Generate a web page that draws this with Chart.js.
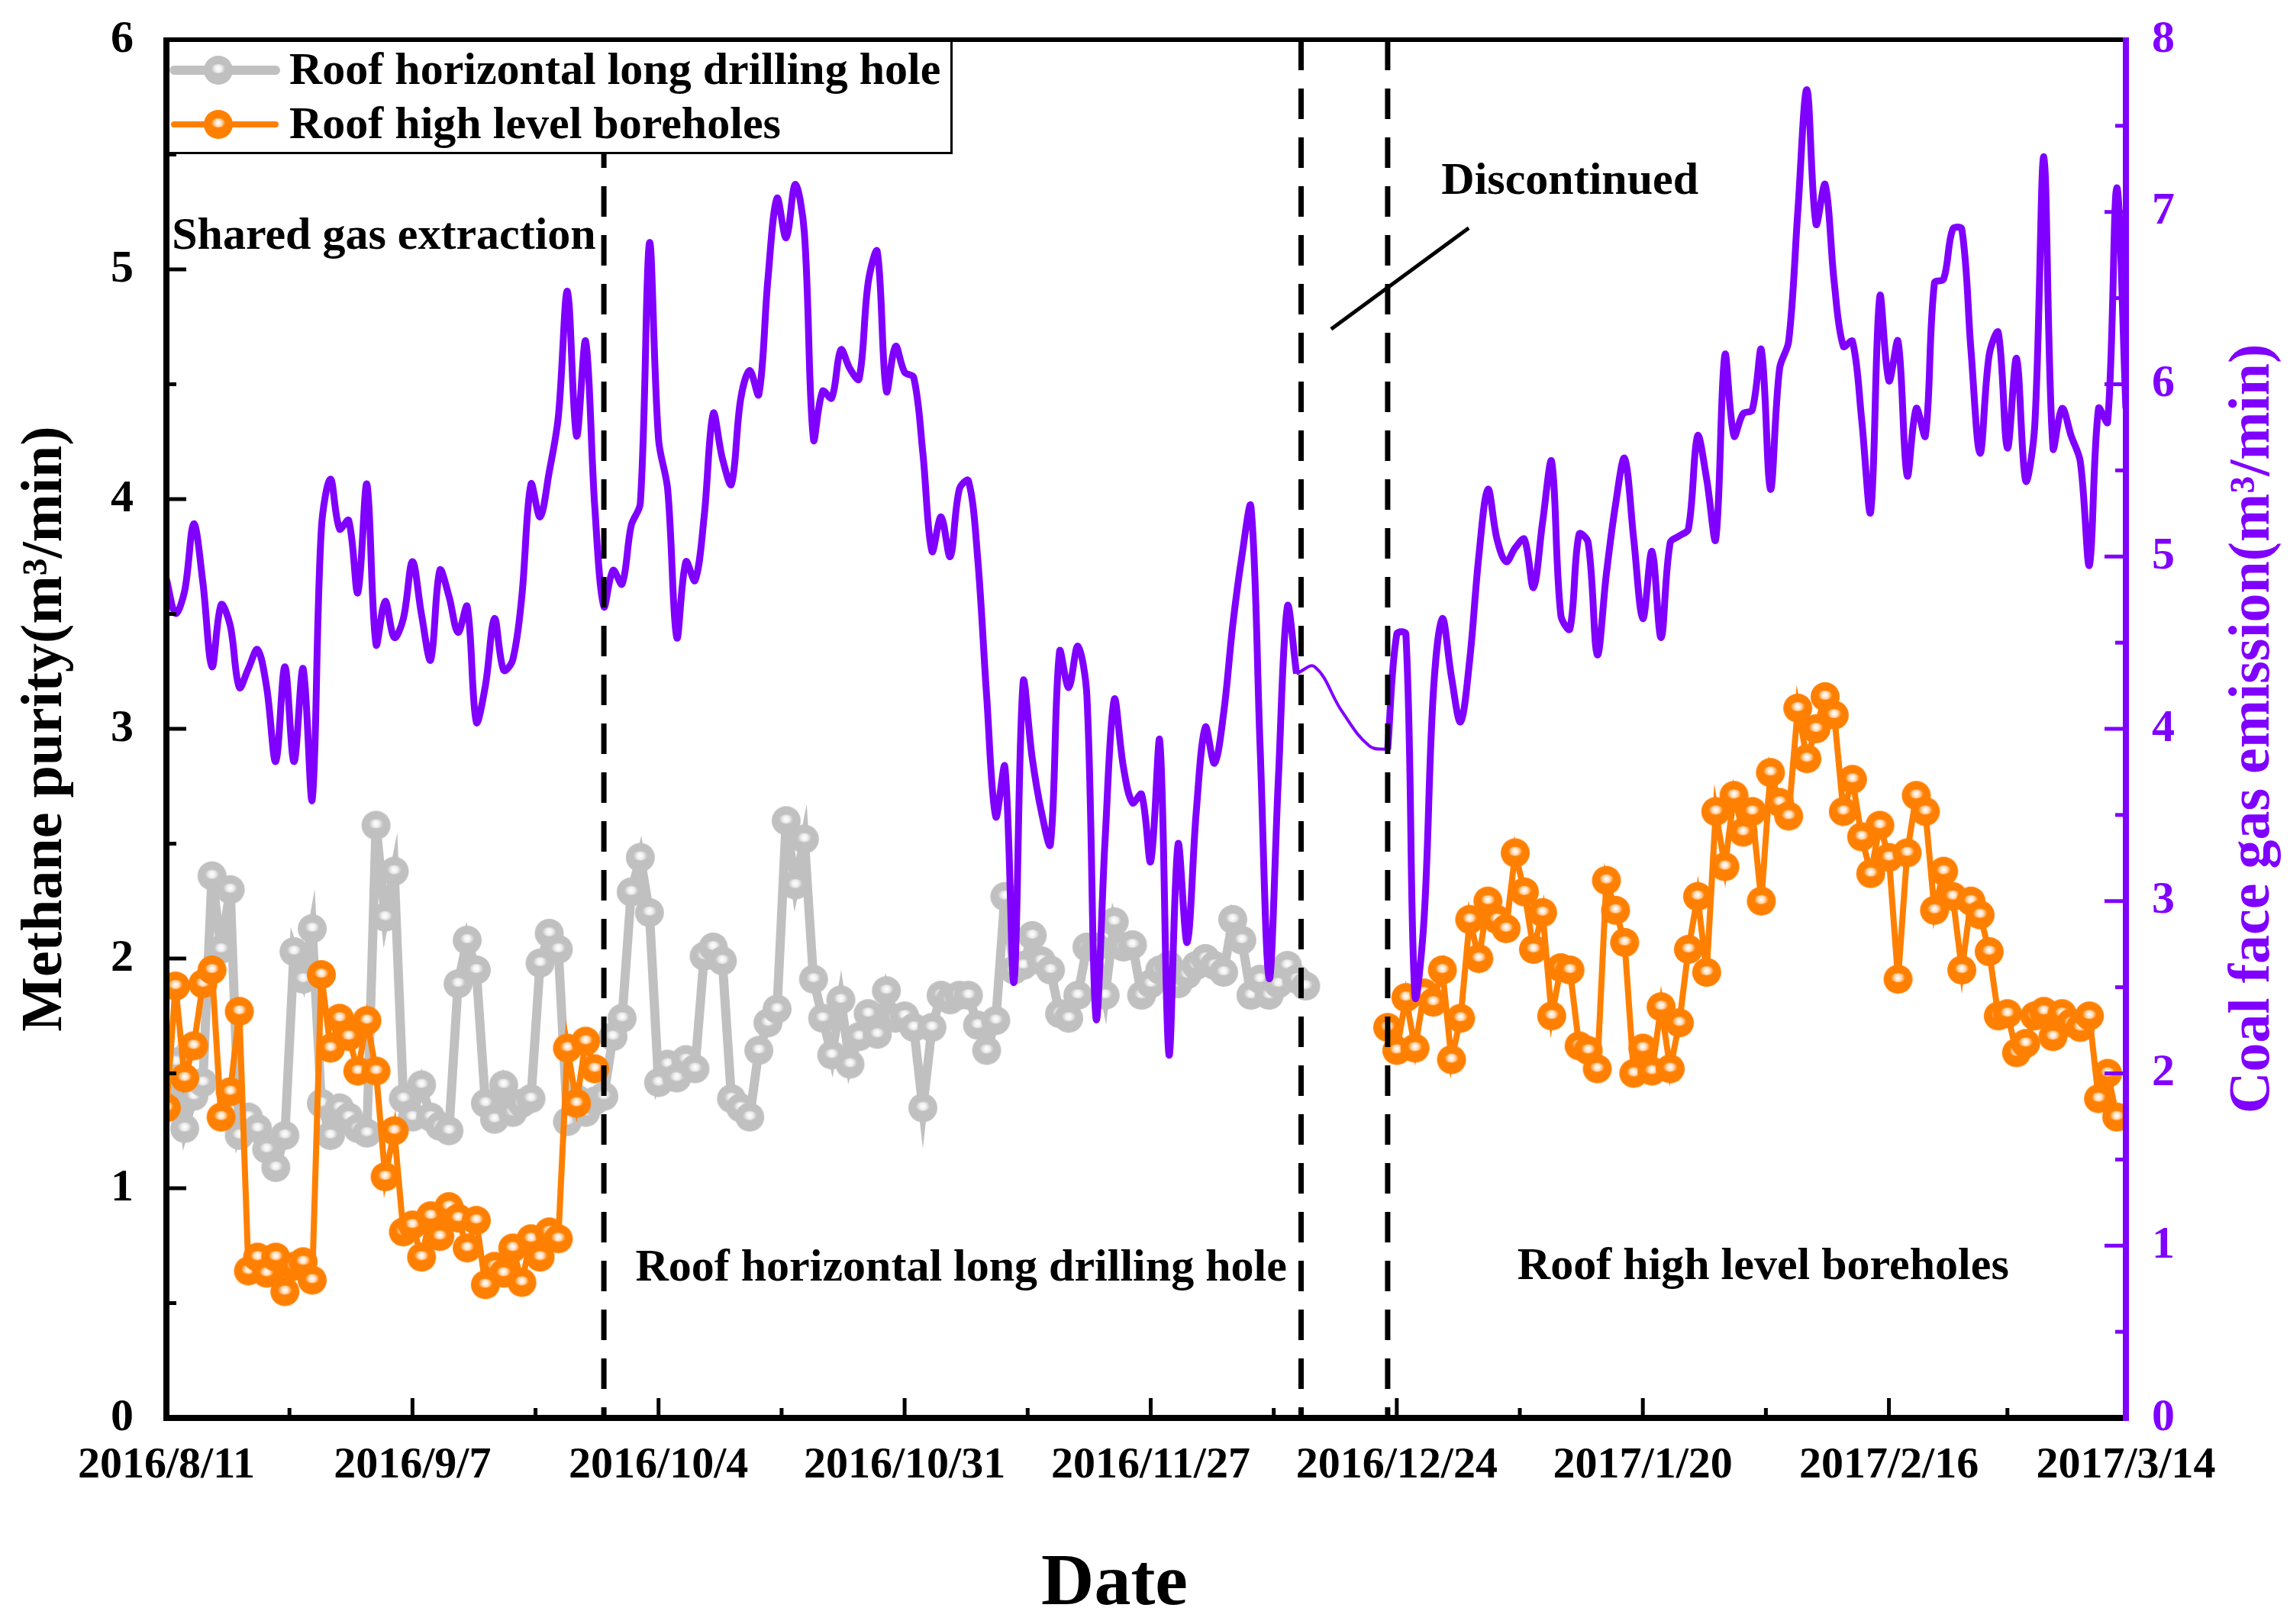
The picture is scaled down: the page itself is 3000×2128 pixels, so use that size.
<!DOCTYPE html>
<html><head><meta charset="utf-8">
<script src="https://cdn.jsdelivr.net/npm/chart.js@4.4.0/dist/chart.umd.min.js"></script>
<style>html,body{margin:0;padding:0;background:#fff;}canvas{display:block;}</style>
</head><body>
<canvas id="c" width="3000" height="2128" style="width:3000px;height:2128px"></canvas>
<script>
// ---------- data ----------
const xTickDays = [0, 27, 54, 81, 108, 135, 162, 189, 215];
const xTickLabels = ['2016/8/11','2016/9/7','2016/10/4','2016/10/31','2016/11/27','2016/12/24','2017/1/20','2017/2/16','2017/3/14'];
const dividerDays = [48, 124.5, 134];

const grayStart = 0;
const grayValues = [1.45,1.55,1.26,1.40,1.46,2.36,2.04,2.30,1.23,1.31,
 1.26,1.17,1.09,1.23,2.03,1.91,2.13,1.37,1.23,1.35,
 1.31,1.26,1.24,2.58,2.18,2.38,1.39,1.31,1.45,1.31,
 1.27,1.25,1.89,2.08,1.95,1.37,1.30,1.45,1.33,1.37,
 1.39,1.98,2.11,2.04,1.29,1.39,1.33,1.38,1.40,1.66,
 1.74,2.29,2.44,2.20,1.46,1.54,1.48,1.56,1.52,2.01,
 2.05,1.99,1.39,1.35,1.31,1.60,1.72,1.78,2.60,2.32,
 2.52,1.91,1.74,1.58,1.82,1.54,1.66,1.76,1.67,1.86,
 1.74,1.75,1.70,1.35,1.70,1.84,1.82,1.84,1.84,1.71,
 1.60,1.73,2.27,1.95,1.97,2.10,1.99,1.95,1.76,1.74,
 1.84,2.05,2.05,1.84,2.16,2.05,2.06,1.84,1.89,1.95,
 1.97,1.89,1.93,1.97,2.00,1.97,1.94,2.17,2.08,1.84,
 1.91,1.84,1.89,1.97,1.91,1.88];

const orangeStart1 = 0;
const orangeValues1 = [1.35,1.88,1.48,1.62,1.89,1.95,1.31,1.42,1.77,0.64,
 0.70,0.63,0.70,0.55,0.66,0.68,0.60,1.93,1.61,1.74,
 1.66,1.51,1.73,1.51,1.05,1.25,0.81,0.84,0.70,0.88,
 0.79,0.92,0.87,0.74,0.86,0.58,0.66,0.63,0.74,0.59,
 0.78,0.70,0.81,0.78,1.61,1.37,1.64,1.52];
const orangeStart2 = 134;
const orangeValues2 = [1.70,1.60,1.83,1.61,1.85,1.81,1.95,1.56,1.74,2.17,
 2.00,2.25,2.17,2.13,2.46,2.29,2.04,2.20,1.75,1.96,
 1.95,1.62,1.60,1.52,2.34,2.21,2.07,1.50,1.61,1.51,
 1.79,1.52,1.72,2.04,2.27,1.94,2.64,2.40,2.71,2.55,
 2.64,2.25,2.81,2.68,2.62,3.09,2.87,3.00,3.14,3.06,
 2.64,2.78,2.53,2.37,2.58,2.44,1.91,2.46,2.71,2.64,
 2.21,2.38,2.27,1.95,2.25,2.19,2.03,1.75,1.76,1.59,
 1.63,1.75,1.77,1.66,1.76,1.72,1.70,1.75,1.39,1.50,
 1.31];

const purpleStart1 = 0;
const purpleValues1 = [4.87,4.67,4.80,5.19,4.85,4.36,4.72,4.60,4.24,4.35,
 4.46,4.24,3.81,4.36,3.81,4.35,3.59,5.16,5.45,5.16,
 5.21,4.79,5.42,4.49,4.74,4.53,4.64,4.97,4.66,4.40,
 4.92,4.77,4.56,4.71,4.04,4.25,4.64,4.34,4.40,4.77,
 5.42,5.23,5.49,5.81,6.54,5.70,6.25,5.29,4.71,4.92,
 4.84,5.18,5.31,6.82,5.68,5.39,4.53,4.97,4.86,5.23,
 5.83,5.57,5.42,5.91,6.08,5.94,6.61,7.08,6.85,7.16,
 6.88,5.68,5.96,5.92,6.20,6.09,6.03,6.59,6.77,5.96,
 6.22,6.07,6.04,5.60,5.03,5.23,5.00,5.39,5.44,5.00,
 4.19,3.49,3.78,2.53,4.27,3.83,3.52,3.33,4.45,4.24,
 4.48,4.19,2.32,3.36,4.17,3.78,3.57,3.62,3.23,3.93,
 2.11,3.33,2.76,3.52,4.01,3.80,4.09,4.60,5.00,5.29,
 3.90,2.55,3.70,4.71,4.32];
const purpleStart2 = 134;
const purpleValues2 = [3.88,4.55,4.55,2.45,2.90,4.20,4.64,4.30,4.04,4.40,
 5.00,5.39,5.10,4.97,5.05,5.10,4.82,5.20,5.55,4.66,
 4.58,5.13,5.08,4.43,4.90,5.30,5.57,5.10,4.64,5.03,
 4.53,5.08,5.12,5.16,5.70,5.45,5.10,6.17,5.70,5.83,
 5.85,6.20,5.39,6.09,6.25,7.00,7.71,6.93,7.16,6.59,
 6.22,6.25,5.80,5.26,6.51,6.02,6.25,5.47,5.86,5.70,
 6.59,6.61,6.90,6.90,6.20,5.60,6.17,6.30,5.63,6.15,
 5.44,5.76,7.32,5.63,5.86,5.70,5.55,4.95,5.86,5.78,
 7.14,5.86];
const connectorDays = [124, 126, 129, 132, 134];
const connectorValues = [4.32, 4.36, 4.10, 3.90, 3.88];

const annotations = [
  {text:'Shared gas extraction', day:0.6, v:5.14, align:'left'},
  {text:'Roof horizontal long drilling hole', day:87.2, v:0.65, align:'center'},
  {text:'Roof high level boreholes', day:175.2, v:0.655, align:'center'},
  {text:'Discontinued', day:139.9, v:5.38, align:'left'}
];
const pointerLine = [[127.8, 4.74], [142.9, 5.18]];

// ---------- styling ----------
const PURPLE = '#8000FF', ORANGE = '#FF8000', GRAY = '#C0C0C0';
const FONT = '"Liberation Serif", "Times New Roman", serif';

function sphere(color, r) {
  const s = Math.ceil(r * 2 + 2);
  const c = document.createElement('canvas');
  c.width = s; c.height = s;
  const g = c.getContext('2d');
  const cx = s / 2, cy = s / 2;
  g.beginPath(); g.arc(cx, cy, r, 0, Math.PI * 2); g.fillStyle = color; g.fill();
  const grd = g.createRadialGradient(cx, cy - 2, 0, cx, cy - 2, r * 0.5);
  grd.addColorStop(0, 'rgba(255,255,255,1)');
  grd.addColorStop(0.4, 'rgba(255,255,255,0.8)');
  grd.addColorStop(1, 'rgba(255,255,255,0)');
  g.beginPath(); g.ellipse(cx, cy - 2, r * 0.5, r * 0.32, 0, 0, Math.PI * 2);
  g.fillStyle = grd; g.fill();
  return c;
}
const graySphere = sphere(GRAY, 19);
const orangeSphere = sphere(ORANGE, 19);

function series(start, vals) { return vals.map((v, i) => ({x: start + i, y: v})); }
const grayData = series(grayStart, grayValues);
const orangeData = series(orangeStart1, orangeValues1)
  .concat([{x: orangeStart1 + orangeValues1.length, y: null}], series(orangeStart2, orangeValues2));
const purpleData = series(purpleStart1, purpleValues1)
  .concat([{x: purpleStart1 + purpleValues1.length, y: null}], series(purpleStart2, purpleValues2));
const connectorData = connectorDays.map((d, i) => ({x: d, y: connectorValues[i]}));

const decor = {
  id: 'decor',
  afterDatasetsDraw(chart) {
    const {ctx, chartArea: a, scales: {x, y, y2}} = chart;
    ctx.save();
    // dashed dividers
    ctx.strokeStyle = '#000'; ctx.lineWidth = 7; ctx.setLineDash([40, 24]);
    dividerDays.forEach(d => {
      const px = x.getPixelForValue(d);
      ctx.beginPath(); ctx.moveTo(px, a.top); ctx.lineTo(px, a.bottom); ctx.stroke();
    });
    ctx.setLineDash([]);
    // pointer line
    ctx.lineWidth = 5;
    ctx.beginPath();
    ctx.moveTo(x.getPixelForValue(pointerLine[0][0]), y.getPixelForValue(pointerLine[0][1]));
    ctx.lineTo(x.getPixelForValue(pointerLine[1][0]), y.getPixelForValue(pointerLine[1][1]));
    ctx.stroke();
    // annotations
    ctx.fillStyle = '#000'; ctx.font = 'bold 60px ' + FONT; ctx.textBaseline = 'middle';
    annotations.forEach(t => {
      ctx.textAlign = t.align;
      ctx.fillText(t.text, x.getPixelForValue(t.day), y.getPixelForValue(t.v));
    });
    // frame
    ctx.lineCap = 'butt';
    ctx.strokeStyle = '#000';
    ctx.lineWidth = 6; ctx.beginPath(); ctx.moveTo(a.left - 4, a.top); ctx.lineTo(a.right, a.top); ctx.stroke();
    ctx.lineWidth = 8; ctx.beginPath(); ctx.moveTo(a.left - 4, a.bottom); ctx.lineTo(a.right, a.bottom); ctx.stroke();
    ctx.beginPath(); ctx.moveTo(a.left, a.top - 3); ctx.lineTo(a.left, a.bottom + 4); ctx.stroke();
    ctx.strokeStyle = PURPLE;
    ctx.beginPath(); ctx.moveTo(a.right, a.top - 3); ctx.lineTo(a.right, a.bottom + 4); ctx.stroke();
    // inside ticks
    ctx.lineWidth = 5;
    ctx.strokeStyle = '#000';
    for (let v = 0.5; v < 6; v += 0.5) {
      const py = y.getPixelForValue(v), len = (v % 1 === 0) ? 26 : 13;
      ctx.beginPath(); ctx.moveTo(a.left, py); ctx.lineTo(a.left + len, py); ctx.stroke();
    }
    for (let i = 1; i < xTickDays.length - 1; i++) {
      const px = x.getPixelForValue(xTickDays[i]);
      ctx.beginPath(); ctx.moveTo(px, a.bottom); ctx.lineTo(px, a.bottom - 26); ctx.stroke();
    }
    for (let i = 0; i < xTickDays.length - 1; i++) {
      const px = x.getPixelForValue((xTickDays[i] + xTickDays[i + 1]) / 2);
      ctx.beginPath(); ctx.moveTo(px, a.bottom); ctx.lineTo(px, a.bottom - 13); ctx.stroke();
    }
    ctx.strokeStyle = PURPLE;
    for (let v = 0.5; v < 8; v += 0.5) {
      const py = y2.getPixelForValue(v), len = (v % 1 === 0) ? 28 : 14;
      ctx.beginPath(); ctx.moveTo(a.right, py); ctx.lineTo(a.right - len, py); ctx.stroke();
    }
    // legend
    const lx = a.left - 4, ly = a.top, lw = 1034, lh = 150;
    ctx.fillStyle = '#fff'; ctx.fillRect(lx, ly, lw, lh);
    ctx.strokeStyle = '#000'; ctx.lineWidth = 3; ctx.strokeRect(lx + 1.5, ly + 1.5, lw - 3, lh - 3);
    ctx.lineWidth = 6; ctx.beginPath(); ctx.moveTo(lx, a.top); ctx.lineTo(lx + lw, a.top); ctx.stroke();
    ctx.lineWidth = 8; ctx.beginPath(); ctx.moveTo(a.left, a.top - 3); ctx.lineTo(a.left, a.top + lh); ctx.stroke();
    const items = chart.data.datasets.filter(d => d.inLegend);
    items.forEach((d, i) => {
      const cy = ly + 40 + i * 71;
      ctx.strokeStyle = d.borderColor; ctx.lineWidth = d.borderWidth; ctx.lineCap = 'round';
      ctx.beginPath(); ctx.moveTo(a.left + 10, cy); ctx.lineTo(a.left + 143, cy); ctx.stroke();
      ctx.drawImage(d.pointStyle, a.left + 68 - d.pointStyle.width / 2, cy - d.pointStyle.height / 2);
      ctx.fillStyle = '#000'; ctx.font = 'bold 60px ' + FONT; ctx.textAlign = 'left'; ctx.textBaseline = 'middle';
      ctx.fillText(d.label, a.left + 161, cy + 2);
    });
    // right title and x title
    ctx.save();
    ctx.translate(2952, (a.top + a.bottom) / 2);
    ctx.rotate(-Math.PI / 2);
    ctx.fillStyle = PURPLE; ctx.font = 'bold 76px ' + FONT; ctx.textAlign = 'center'; ctx.textBaseline = 'middle';
    ctx.fillText('Coal face gas emission(m\u00B3/min)', 0, 0);
    ctx.restore();
    ctx.fillStyle = '#000'; ctx.font = 'bold 96px ' + FONT; ctx.textAlign = 'center'; ctx.textBaseline = 'middle';
    ctx.fillText('Date', 1460, 2077);
    ctx.restore();
  }
};

function fixV(w) { return s => { s.width = w; s.paddingTop = 0; s.paddingBottom = 0; }; }

new Chart(document.getElementById('c'), {
  type: 'line',
  data: {
    datasets: [
      {label: 'Coal face gas emission', data: purpleData, yAxisID: 'y2', borderColor: PURPLE, borderWidth: 9,
       pointRadius: 0, tension: 0.35, spanGaps: false, order: 0, inLegend: false},
      {label: 'connector', data: connectorData, yAxisID: 'y2', borderColor: PURPLE, borderWidth: 4,
       pointRadius: 0, tension: 0.4, order: 0, inLegend: false},
      {label: 'Roof horizontal long drilling hole', data: grayData, yAxisID: 'y', borderColor: GRAY, borderWidth: 12,
       pointStyle: graySphere, pointRadius: 19, tension: 0, order: 2, inLegend: true},
      {label: 'Roof high level boreholes', data: orangeData, yAxisID: 'y', borderColor: ORANGE, borderWidth: 8,
       pointStyle: orangeSphere, pointRadius: 19, tension: 0, spanGaps: false, order: 1, inLegend: true}
    ]
  },
  options: {
    responsive: false, animation: false, devicePixelRatio: 1,
    layout: {padding: {left: 0, right: 0, top: 52, bottom: 0}},
    plugins: {legend: {display: false}, tooltip: {enabled: false}},
    scales: {
      x: {type: 'linear', min: 0, max: 215,
          afterBuildTicks: s => { s.ticks = xTickDays.map(v => ({value: v})); },
          afterFit: s => { s.height = 270; s.paddingLeft = 0; s.paddingRight = 0; },
          grid: {display: false}, border: {display: false},
          ticks: {autoSkip: false, maxRotation: 0, minRotation: 0, padding: 20, color: '#000',
                  font: {family: FONT, size: 58, weight: 'bold'},
                  callback: v => { const i = xTickDays.indexOf(v); return i >= 0 ? xTickLabels[i] : ''; }}},
      y: {position: 'left', min: 0, max: 6,
          afterFit: fixV(218),
          grid: {display: false}, border: {display: false},
          ticks: {stepSize: 1, padding: 35, color: '#000', font: {family: FONT, size: 60, weight: 'bold'}},
          title: {display: true, text: 'Methane purity(m\u00B3/min)', color: '#000',
                  font: {family: FONT, size: 76, weight: 'bold'}, padding: {top: 15, bottom: 0}}},
      y2: {position: 'right', min: 0, max: 8,
          afterFit: fixV(215),
          grid: {display: false}, border: {display: false},
          ticks: {stepSize: 1, padding: 26, color: PURPLE, font: {family: FONT, size: 60, weight: 'bold'}}}
    }
  },
  plugins: [decor]
});
</script>
</body></html>
